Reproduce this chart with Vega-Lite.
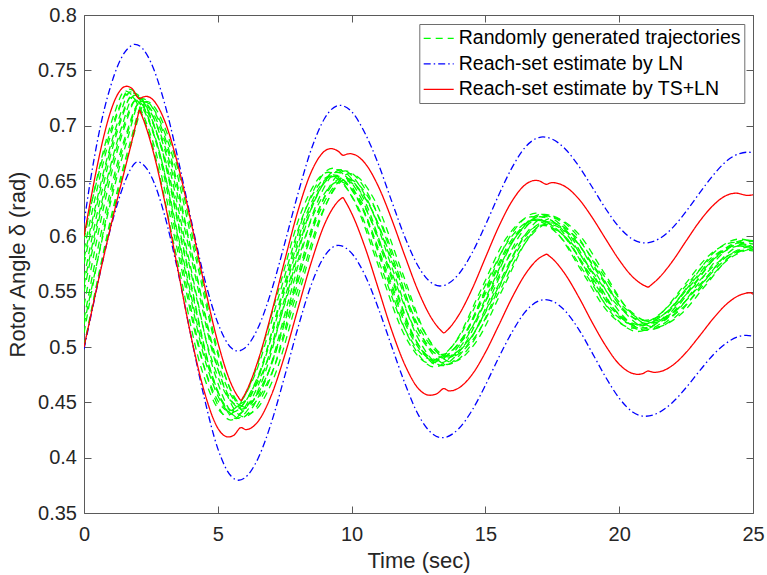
{
"$schema":"https://vega.github.io/schema/vega-lite/v6.json",
"width":669,"height":498,
"autosize":{"type":"none"},
"padding":{"left":84,"top":15,"right":14,"bottom":62},
"background":"white",
"config":{"view":{"stroke":null},"font":"Liberation Sans",
 "axis":{"grid":false,"domainColor":"#5a5a5a","domainWidth":1,"tickColor":"#5a5a5a","tickWidth":1,"tickSize":-7,"labelColor":"#262626","labelFont":"Liberation Sans","labelFontSize":20,"titleFont":"Liberation Sans","titleFontSize":22,"titleFontWeight":"normal","titleColor":"#262626","labelFlush":false,"labelOverlap":false,"labelBound":false}},
"datasets":{
"green":[
{"id":0,"t":0,"v":0.5},{"id":0,"t":0.5625,"v":0.5671},{"id":0,"t":1.125,"v":0.6291},{"id":0,"t":1.6875,"v":0.6815},{"id":0,"t":2.25,"v":0.7215},{"id":0,"t":3.2,"v":0.6811},{"id":0,"t":4.15,"v":0.5834},{"id":0,"t":5.1,"v":0.4857},{"id":0,"t":6.05,"v":0.4452},{"id":0,"t":7.0,"v":0.4755},{"id":0,"t":7.95,"v":0.5486},{"id":0,"t":8.9,"v":0.6216},{"id":0,"t":9.85,"v":0.6519},{"id":0,"t":10.8,"v":0.6283},{"id":0,"t":11.75,"v":0.5714},{"id":0,"t":12.7,"v":0.5144},{"id":0,"t":13.65,"v":0.4908},{"id":0,"t":14.6,"v":0.5086},{"id":0,"t":15.55,"v":0.5515},{"id":0,"t":16.5,"v":0.5944},{"id":0,"t":17.45,"v":0.6122},{"id":0,"t":18.4,"v":0.599},{"id":0,"t":19.35,"v":0.5671},{"id":0,"t":20.3,"v":0.5352},{"id":0,"t":21.25,"v":0.522},{"id":0,"t":22.2,"v":0.5319},{"id":0,"t":23.15,"v":0.5558},{"id":0,"t":24.1,"v":0.5796},{"id":0,"t":25.05,"v":0.5895},
{"id":1,"t":0,"v":0.5125},{"id":1,"t":0.5425,"v":0.5824},{"id":1,"t":1.085,"v":0.6449},{"id":1,"t":1.6275,"v":0.6936},{"id":1,"t":2.17,"v":0.7245},{"id":1,"t":3.12,"v":0.6824},{"id":1,"t":4.07,"v":0.5807},{"id":1,"t":5.02,"v":0.4789},{"id":1,"t":5.97,"v":0.4368},{"id":1,"t":6.92,"v":0.4693},{"id":1,"t":7.87,"v":0.548},{"id":1,"t":8.82,"v":0.6266},{"id":1,"t":9.77,"v":0.6591},{"id":1,"t":10.72,"v":0.6335},{"id":1,"t":11.67,"v":0.5717},{"id":1,"t":12.62,"v":0.5098},{"id":1,"t":13.57,"v":0.4842},{"id":1,"t":14.52,"v":0.5039},{"id":1,"t":15.47,"v":0.5515},{"id":1,"t":16.42,"v":0.5991},{"id":1,"t":17.37,"v":0.6188},{"id":1,"t":18.32,"v":0.6038},{"id":1,"t":19.27,"v":0.5674},{"id":1,"t":20.22,"v":0.5311},{"id":1,"t":21.17,"v":0.516},{"id":1,"t":22.12,"v":0.5276},{"id":1,"t":23.07,"v":0.5558},{"id":1,"t":24.02,"v":0.5839},{"id":1,"t":24.97,"v":0.5955},{"id":1,"t":25.92,"v":0.587},
{"id":2,"t":0,"v":0.525},{"id":2,"t":0.5225,"v":0.5894},{"id":2,"t":1.045,"v":0.6471},{"id":2,"t":1.5675,"v":0.692},{"id":2,"t":2.09,"v":0.7205},{"id":2,"t":3.04,"v":0.68},{"id":2,"t":3.99,"v":0.5822},{"id":2,"t":4.94,"v":0.4843},{"id":2,"t":5.89,"v":0.4438},{"id":2,"t":6.84,"v":0.4744},{"id":2,"t":7.79,"v":0.5485},{"id":2,"t":8.74,"v":0.6225},{"id":2,"t":9.69,"v":0.6531},{"id":2,"t":10.64,"v":0.6292},{"id":2,"t":11.59,"v":0.5714},{"id":2,"t":12.54,"v":0.5136},{"id":2,"t":13.49,"v":0.4897},{"id":2,"t":14.44,"v":0.5078},{"id":2,"t":15.39,"v":0.5515},{"id":2,"t":16.34,"v":0.5952},{"id":2,"t":17.29,"v":0.6133},{"id":2,"t":18.24,"v":0.5998},{"id":2,"t":19.19,"v":0.5672},{"id":2,"t":20.14,"v":0.5345},{"id":2,"t":21.09,"v":0.521},{"id":2,"t":22.04,"v":0.5312},{"id":2,"t":22.99,"v":0.5558},{"id":2,"t":23.94,"v":0.5803},{"id":2,"t":24.89,"v":0.5905},{"id":2,"t":25.84,"v":0.5834},
{"id":3,"t":0,"v":0.5375},{"id":3,"t":0.5025,"v":0.5995},{"id":3,"t":1.005,"v":0.6549},{"id":3,"t":1.5075,"v":0.6981},{"id":3,"t":2.01,"v":0.7255},{"id":3,"t":2.96,"v":0.683},{"id":3,"t":3.91,"v":0.5805},{"id":3,"t":4.86,"v":0.4779},{"id":3,"t":5.81,"v":0.4354},{"id":3,"t":6.76,"v":0.4683},{"id":3,"t":7.71,"v":0.5479},{"id":3,"t":8.66,"v":0.6274},{"id":3,"t":9.61,"v":0.6603},{"id":3,"t":10.56,"v":0.6344},{"id":3,"t":11.51,"v":0.5717},{"id":3,"t":12.46,"v":0.509},{"id":3,"t":13.41,"v":0.4831},{"id":3,"t":14.36,"v":0.5031},{"id":3,"t":15.31,"v":0.5515},{"id":3,"t":16.26,"v":0.5999},{"id":3,"t":17.21,"v":0.6199},{"id":3,"t":18.16,"v":0.6045},{"id":3,"t":19.11,"v":0.5675},{"id":3,"t":20.06,"v":0.5304},{"id":3,"t":21.01,"v":0.515},{"id":3,"t":21.96,"v":0.5269},{"id":3,"t":22.91,"v":0.5558},{"id":3,"t":23.86,"v":0.5846},{"id":3,"t":24.81,"v":0.5965},{"id":3,"t":25.76,"v":0.5877},
{"id":4,"t":0,"v":0.55},{"id":4,"t":0.4825,"v":0.6069},{"id":4,"t":0.965,"v":0.6577},{"id":4,"t":1.4475,"v":0.6974},{"id":4,"t":1.93,"v":0.7225},{"id":4,"t":2.88,"v":0.6823},{"id":4,"t":3.83,"v":0.5853},{"id":4,"t":4.78,"v":0.4882},{"id":4,"t":5.73,"v":0.448},{"id":4,"t":6.68,"v":0.4775},{"id":4,"t":7.63,"v":0.5488},{"id":4,"t":8.58,"v":0.62},{"id":4,"t":9.53,"v":0.6495},{"id":4,"t":10.48,"v":0.6266},{"id":4,"t":11.43,"v":0.5713},{"id":4,"t":12.38,"v":0.5159},{"id":4,"t":13.33,"v":0.493},{"id":4,"t":14.28,"v":0.5101},{"id":4,"t":15.23,"v":0.5515},{"id":4,"t":16.18,"v":0.5929},{"id":4,"t":17.13,"v":0.61},{"id":4,"t":18.08,"v":0.5974},{"id":4,"t":19.03,"v":0.567},{"id":4,"t":19.98,"v":0.5366},{"id":4,"t":20.93,"v":0.524},{"id":4,"t":21.88,"v":0.5333},{"id":4,"t":22.83,"v":0.5558},{"id":4,"t":23.78,"v":0.5782},{"id":4,"t":24.73,"v":0.5875},{"id":4,"t":25.68,"v":0.5812},
{"id":5,"t":0,"v":0.5625},{"id":5,"t":0.4625,"v":0.6175},{"id":5,"t":0.925,"v":0.6668},{"id":5,"t":1.3875,"v":0.7052},{"id":5,"t":1.85,"v":0.7295},{"id":5,"t":2.8,"v":0.6869},{"id":5,"t":3.75,"v":0.5839},{"id":5,"t":4.7,"v":0.4809},{"id":5,"t":5.65,"v":0.4382},{"id":5,"t":6.6,"v":0.4704},{"id":5,"t":7.55,"v":0.5481},{"id":5,"t":8.5,"v":0.6257},{"id":5,"t":9.45,"v":0.6579},{"id":5,"t":10.4,"v":0.6326},{"id":5,"t":11.35,"v":0.5716},{"id":5,"t":12.3,"v":0.5106},{"id":5,"t":13.25,"v":0.4853},{"id":5,"t":14.2,"v":0.5047},{"id":5,"t":15.15,"v":0.5515},{"id":5,"t":16.1,"v":0.5983},{"id":5,"t":17.05,"v":0.6177},{"id":5,"t":18.0,"v":0.603},{"id":5,"t":18.95,"v":0.5674},{"id":5,"t":19.9,"v":0.5317},{"id":5,"t":20.85,"v":0.517},{"id":5,"t":21.8,"v":0.5284},{"id":5,"t":22.75,"v":0.5558},{"id":5,"t":23.7,"v":0.5832},{"id":5,"t":24.65,"v":0.5945},{"id":5,"t":25.6,"v":0.5863},
{"id":6,"t":0,"v":0.575},{"id":6,"t":0.4425,"v":0.6246},{"id":6,"t":0.885,"v":0.669},{"id":6,"t":1.3275,"v":0.7036},{"id":6,"t":1.77,"v":0.7255},{"id":6,"t":2.72,"v":0.6841},{"id":6,"t":3.67,"v":0.584},{"id":6,"t":4.62,"v":0.4839},{"id":6,"t":5.57,"v":0.4424},{"id":6,"t":6.52,"v":0.4734},{"id":6,"t":7.47,"v":0.5484},{"id":6,"t":8.42,"v":0.6233},{"id":6,"t":9.37,"v":0.6543},{"id":6,"t":10.32,"v":0.63},{"id":6,"t":11.27,"v":0.5715},{"id":6,"t":12.22,"v":0.5129},{"id":6,"t":13.17,"v":0.4886},{"id":6,"t":14.12,"v":0.507},{"id":6,"t":15.07,"v":0.5515},{"id":6,"t":16.02,"v":0.596},{"id":6,"t":16.97,"v":0.6144},{"id":6,"t":17.92,"v":0.6006},{"id":6,"t":18.87,"v":0.5672},{"id":6,"t":19.82,"v":0.5338},{"id":6,"t":20.77,"v":0.52},{"id":6,"t":21.72,"v":0.5305},{"id":6,"t":22.67,"v":0.5558},{"id":6,"t":23.62,"v":0.581},{"id":6,"t":24.57,"v":0.5915},{"id":6,"t":25.52,"v":0.5841},
{"id":7,"t":0,"v":0.5875},{"id":7,"t":0.4225,"v":0.6355},{"id":7,"t":0.845,"v":0.6783},{"id":7,"t":1.2675,"v":0.7118},{"id":7,"t":1.69,"v":0.733},{"id":7,"t":2.64,"v":0.6892},{"id":7,"t":3.59,"v":0.5835},{"id":7,"t":4.54,"v":0.4778},{"id":7,"t":5.49,"v":0.434},{"id":7,"t":6.44,"v":0.4673},{"id":7,"t":7.39,"v":0.5478},{"id":7,"t":8.34,"v":0.6282},{"id":7,"t":9.29,"v":0.6615},{"id":7,"t":10.24,"v":0.6352},{"id":7,"t":11.19,"v":0.5718},{"id":7,"t":12.14,"v":0.5083},{"id":7,"t":13.09,"v":0.482},{"id":7,"t":14.04,"v":0.5024},{"id":7,"t":14.99,"v":0.5515},{"id":7,"t":15.94,"v":0.6007},{"id":7,"t":16.89,"v":0.621},{"id":7,"t":17.84,"v":0.6053},{"id":7,"t":18.79,"v":0.5675},{"id":7,"t":19.74,"v":0.5297},{"id":7,"t":20.69,"v":0.514},{"id":7,"t":21.64,"v":0.5262},{"id":7,"t":22.59,"v":0.5558},{"id":7,"t":23.54,"v":0.5853},{"id":7,"t":24.49,"v":0.5975},{"id":7,"t":25.44,"v":0.5884},
{"id":8,"t":0,"v":0.6},{"id":8,"t":0.4025,"v":0.6424},{"id":8,"t":0.805,"v":0.6802},{"id":8,"t":1.2075,"v":0.7098},{"id":8,"t":1.61,"v":0.7285},{"id":8,"t":2.56,"v":0.6866},{"id":8,"t":3.51,"v":0.5855},{"id":8,"t":4.46,"v":0.4843},{"id":8,"t":5.41,"v":0.4424},{"id":8,"t":6.36,"v":0.4734},{"id":8,"t":7.31,"v":0.5484},{"id":8,"t":8.26,"v":0.6233},{"id":8,"t":9.21,"v":0.6543},{"id":8,"t":10.16,"v":0.63},{"id":8,"t":11.11,"v":0.5715},{"id":8,"t":12.06,"v":0.5129},{"id":8,"t":13.01,"v":0.4886},{"id":8,"t":13.96,"v":0.507},{"id":8,"t":14.91,"v":0.5515},{"id":8,"t":15.86,"v":0.596},{"id":8,"t":16.81,"v":0.6144},{"id":8,"t":17.76,"v":0.6006},{"id":8,"t":18.71,"v":0.5672},{"id":8,"t":19.66,"v":0.5338},{"id":8,"t":20.61,"v":0.52},{"id":8,"t":21.56,"v":0.5305},{"id":8,"t":22.51,"v":0.5558},{"id":8,"t":23.46,"v":0.581},{"id":8,"t":24.41,"v":0.5915},{"id":8,"t":25.36,"v":0.5841},
{"id":9,"t":0,"v":0.5},{"id":9,"t":0.5825,"v":0.5673},{"id":9,"t":1.165,"v":0.6294},{"id":9,"t":1.7475,"v":0.682},{"id":9,"t":2.33,"v":0.722},{"id":9,"t":3.28,"v":0.6807},{"id":9,"t":4.23,"v":0.5808},{"id":9,"t":5.18,"v":0.481},{"id":9,"t":6.13,"v":0.4396},{"id":9,"t":7.08,"v":0.4714},{"id":9,"t":8.03,"v":0.5482},{"id":9,"t":8.98,"v":0.6249},{"id":9,"t":9.93,"v":0.6567},{"id":9,"t":10.88,"v":0.6318},{"id":9,"t":11.83,"v":0.5716},{"id":9,"t":12.78,"v":0.5113},{"id":9,"t":13.73,"v":0.4864},{"id":9,"t":14.68,"v":0.5055},{"id":9,"t":15.63,"v":0.5515},{"id":9,"t":16.58,"v":0.5975},{"id":9,"t":17.53,"v":0.6166},{"id":9,"t":18.48,"v":0.6022},{"id":9,"t":19.43,"v":0.5673},{"id":9,"t":20.38,"v":0.5324},{"id":9,"t":21.33,"v":0.518},{"id":9,"t":22.28,"v":0.5291},{"id":9,"t":23.23,"v":0.5558},{"id":9,"t":24.18,"v":0.5825},{"id":9,"t":25.13,"v":0.5935},
{"id":10,"t":0,"v":0.52},{"id":10,"t":0.5325,"v":0.5812},{"id":10,"t":1.065,"v":0.6377},{"id":10,"t":1.5975,"v":0.6856},{"id":10,"t":2.13,"v":0.722},{"id":10,"t":3.08,"v":0.6817},{"id":10,"t":4.03,"v":0.5843},{"id":10,"t":4.98,"v":0.4869},{"id":10,"t":5.93,"v":0.4466},{"id":10,"t":6.88,"v":0.4765},{"id":10,"t":7.83,"v":0.5487},{"id":10,"t":8.78,"v":0.6208},{"id":10,"t":9.73,"v":0.6507},{"id":10,"t":10.68,"v":0.6275},{"id":10,"t":11.63,"v":0.5713},{"id":10,"t":12.58,"v":0.5152},{"id":10,"t":13.53,"v":0.4919},{"id":10,"t":14.48,"v":0.5094},{"id":10,"t":15.43,"v":0.5515},{"id":10,"t":16.38,"v":0.5937},{"id":10,"t":17.33,"v":0.6111},{"id":10,"t":18.28,"v":0.5982},{"id":10,"t":19.23,"v":0.5671},{"id":10,"t":20.18,"v":0.5359},{"id":10,"t":21.13,"v":0.523},{"id":10,"t":22.08,"v":0.5326},{"id":10,"t":23.03,"v":0.5558},{"id":10,"t":23.98,"v":0.5789},{"id":10,"t":24.93,"v":0.5885},{"id":10,"t":25.88,"v":0.5819},
{"id":11,"t":0,"v":0.556},{"id":11,"t":0.4725,"v":0.6103},{"id":11,"t":0.945,"v":0.6595},{"id":11,"t":1.4175,"v":0.6995},{"id":11,"t":1.89,"v":0.7275},{"id":11,"t":2.84,"v":0.6847},{"id":11,"t":3.79,"v":0.5815},{"id":11,"t":4.74,"v":0.4782},{"id":11,"t":5.69,"v":0.4354},{"id":11,"t":6.64,"v":0.4683},{"id":11,"t":7.59,"v":0.5479},{"id":11,"t":8.54,"v":0.6274},{"id":11,"t":9.49,"v":0.6603},{"id":11,"t":10.44,"v":0.6344},{"id":11,"t":11.39,"v":0.5717},{"id":11,"t":12.34,"v":0.509},{"id":11,"t":13.29,"v":0.4831},{"id":11,"t":14.24,"v":0.5031},{"id":11,"t":15.19,"v":0.5515},{"id":11,"t":16.14,"v":0.5999},{"id":11,"t":17.09,"v":0.6199},{"id":11,"t":18.04,"v":0.6045},{"id":11,"t":18.99,"v":0.5675},{"id":11,"t":19.94,"v":0.5304},{"id":11,"t":20.89,"v":0.515},{"id":11,"t":21.84,"v":0.5269},{"id":11,"t":22.79,"v":0.5558},{"id":11,"t":23.74,"v":0.5846},{"id":11,"t":24.69,"v":0.5965},{"id":11,"t":25.64,"v":0.5877},
{"id":12,"t":0,"v":0.58},{"id":12,"t":0.4325,"v":0.6276},{"id":12,"t":0.865,"v":0.6708},{"id":12,"t":1.2975,"v":0.706},{"id":12,"t":1.73,"v":0.7305},{"id":12,"t":2.68,"v":0.6881},{"id":12,"t":3.63,"v":0.5858},{"id":12,"t":4.58,"v":0.4834},{"id":12,"t":5.53,"v":0.441},{"id":12,"t":6.48,"v":0.4724},{"id":12,"t":7.43,"v":0.5483},{"id":12,"t":8.38,"v":0.6241},{"id":12,"t":9.33,"v":0.6555},{"id":12,"t":10.28,"v":0.6309},{"id":12,"t":11.23,"v":0.5715},{"id":12,"t":12.18,"v":0.5121},{"id":12,"t":13.13,"v":0.4875},{"id":12,"t":14.08,"v":0.5062},{"id":12,"t":15.03,"v":0.5515},{"id":12,"t":15.98,"v":0.5968},{"id":12,"t":16.93,"v":0.6155},{"id":12,"t":17.88,"v":0.6014},{"id":12,"t":18.83,"v":0.5673},{"id":12,"t":19.78,"v":0.5331},{"id":12,"t":20.73,"v":0.519},{"id":12,"t":21.68,"v":0.5298},{"id":12,"t":22.63,"v":0.5558},{"id":12,"t":23.58,"v":0.5817},{"id":12,"t":24.53,"v":0.5925},{"id":12,"t":25.48,"v":0.5848},
{"id":13,"t":0,"v":0.597},{"id":13,"t":0.3825,"v":0.6413},{"id":13,"t":0.765,"v":0.681},{"id":13,"t":1.1475,"v":0.7119},{"id":13,"t":1.53,"v":0.7315},{"id":13,"t":2.48,"v":0.6886},{"id":13,"t":3.43,"v":0.5849},{"id":13,"t":4.38,"v":0.4811},{"id":13,"t":5.33,"v":0.4382},{"id":13,"t":6.28,"v":0.4704},{"id":13,"t":7.23,"v":0.5481},{"id":13,"t":8.18,"v":0.6257},{"id":13,"t":9.13,"v":0.6579},{"id":13,"t":10.08,"v":0.6326},{"id":13,"t":11.03,"v":0.5716},{"id":13,"t":11.98,"v":0.5106},{"id":13,"t":12.93,"v":0.4853},{"id":13,"t":13.88,"v":0.5047},{"id":13,"t":14.83,"v":0.5515},{"id":13,"t":15.78,"v":0.5983},{"id":13,"t":16.73,"v":0.6177},{"id":13,"t":17.68,"v":0.603},{"id":13,"t":18.63,"v":0.5674},{"id":13,"t":19.58,"v":0.5317},{"id":13,"t":20.53,"v":0.517},{"id":13,"t":21.48,"v":0.5284},{"id":13,"t":22.43,"v":0.5558},{"id":13,"t":23.38,"v":0.5832},{"id":13,"t":24.33,"v":0.5945},{"id":13,"t":25.28,"v":0.5863}
],
"blue":[
{"b":"U","t":0,"v":0.612},{"b":"U","t":0.25,"v":0.652},{"b":"U","t":0.5,"v":0.686},{"b":"U","t":0.75,"v":0.714},{"b":"U","t":1.0,"v":0.736},{"b":"U","t":1.25,"v":0.7535},{"b":"U","t":1.5,"v":0.7655},{"b":"U","t":1.75,"v":0.772},{"b":"U","t":1.9,"v":0.7735},{"b":"U","t":2.2,"v":0.7694},{"b":"U","t":2.5,"v":0.7572},{"b":"U","t":3.0,"v":0.7213},{"b":"U","t":3.5,"v":0.6715},{"b":"U","t":4.0,"v":0.6152},{"b":"U","t":4.5,"v":0.562},{"b":"U","t":5.0,"v":0.5218},{"b":"U","t":5.5,"v":0.4993},{"b":"U","t":5.75,"v":0.4964},{"b":"U","t":6.0,"v":0.4988},{"b":"U","t":6.5,"v":0.5171},{"b":"U","t":7.0,"v":0.5505},{"b":"U","t":7.5,"v":0.5936},{"b":"U","t":8.0,"v":0.6389},{"b":"U","t":8.5,"v":0.6791},{"b":"U","t":9.0,"v":0.7069},{"b":"U","t":9.55,"v":0.7184},{"b":"U","t":10.0,"v":0.7127},{"b":"U","t":10.5,"v":0.6932},{"b":"U","t":11.0,"v":0.6653},{"b":"U","t":11.5,"v":0.6316},{"b":"U","t":12.0,"v":0.5988},{"b":"U","t":12.5,"v":0.5725},{"b":"U","t":13.0,"v":0.5577},{"b":"U","t":13.3,"v":0.5551},{"b":"U","t":13.5,"v":0.556},{"b":"U","t":14.0,"v":0.5658},{"b":"U","t":14.5,"v":0.5849},{"b":"U","t":15.0,"v":0.6101},{"b":"U","t":15.5,"v":0.6374},{"b":"U","t":16.0,"v":0.6623},{"b":"U","t":16.5,"v":0.6808},{"b":"U","t":17.0,"v":0.6893},{"b":"U","t":17.15,"v":0.6898},{"b":"U","t":17.5,"v":0.6878},{"b":"U","t":18.0,"v":0.6785},{"b":"U","t":18.5,"v":0.6631},{"b":"U","t":19.0,"v":0.6441},{"b":"U","t":19.5,"v":0.6247},{"b":"U","t":20.0,"v":0.6082},{"b":"U","t":20.5,"v":0.5974},{"b":"U","t":20.96,"v":0.594},{"b":"U","t":21.5,"v":0.5979},{"b":"U","t":22.0,"v":0.6079},{"b":"U","t":22.5,"v":0.6225},{"b":"U","t":23.0,"v":0.639},{"b":"U","t":23.5,"v":0.6549},{"b":"U","t":24.0,"v":0.6678},{"b":"U","t":24.5,"v":0.6748},{"b":"U","t":24.8,"v":0.676},{"b":"U","t":25.0,"v":0.6757},
{"b":"L","t":0,"v":0.498},{"b":"L","t":0.25,"v":0.527},{"b":"L","t":0.5,"v":0.5555},{"b":"L","t":0.75,"v":0.583},{"b":"L","t":1.0,"v":0.608},{"b":"L","t":1.25,"v":0.6295},{"b":"L","t":1.5,"v":0.6475},{"b":"L","t":1.75,"v":0.661},{"b":"L","t":2.0,"v":0.6672},{"b":"L","t":2.5,"v":0.6549},{"b":"L","t":3.0,"v":0.6202},{"b":"L","t":3.5,"v":0.5693},{"b":"L","t":4.0,"v":0.5096},{"b":"L","t":4.5,"v":0.4535},{"b":"L","t":5.0,"v":0.4082},{"b":"L","t":5.5,"v":0.3832},{"b":"L","t":5.77,"v":0.3796},{"b":"L","t":6.0,"v":0.3816},{"b":"L","t":6.5,"v":0.3991},{"b":"L","t":7.0,"v":0.4315},{"b":"L","t":7.5,"v":0.4737},{"b":"L","t":8.0,"v":0.5178},{"b":"L","t":8.5,"v":0.5567},{"b":"L","t":9.0,"v":0.5826},{"b":"L","t":9.5,"v":0.5919},{"b":"L","t":10.0,"v":0.5848},{"b":"L","t":10.5,"v":0.5649},{"b":"L","t":11.0,"v":0.535},{"b":"L","t":11.5,"v":0.5004},{"b":"L","t":12.0,"v":0.4666},{"b":"L","t":12.5,"v":0.4384},{"b":"L","t":13.0,"v":0.422},{"b":"L","t":13.37,"v":0.4181},{"b":"L","t":13.5,"v":0.4184},{"b":"L","t":14.0,"v":0.4261},{"b":"L","t":14.5,"v":0.4427},{"b":"L","t":15.0,"v":0.4654},{"b":"L","t":15.5,"v":0.4906},{"b":"L","t":16.0,"v":0.5136},{"b":"L","t":16.5,"v":0.5321},{"b":"L","t":17.0,"v":0.5417},{"b":"L","t":17.23,"v":0.5428},{"b":"L","t":17.5,"v":0.5415},{"b":"L","t":18.0,"v":0.5321},{"b":"L","t":18.5,"v":0.5155},{"b":"L","t":19.0,"v":0.4943},{"b":"L","t":19.5,"v":0.4725},{"b":"L","t":20.0,"v":0.4538},{"b":"L","t":20.5,"v":0.4413},{"b":"L","t":20.96,"v":0.4374},{"b":"L","t":21.5,"v":0.441},{"b":"L","t":22.0,"v":0.4501},{"b":"L","t":22.5,"v":0.4633},{"b":"L","t":23.0,"v":0.4783},{"b":"L","t":23.5,"v":0.4926},{"b":"L","t":24.0,"v":0.5035},{"b":"L","t":24.5,"v":0.5097},{"b":"L","t":24.75,"v":0.5105},{"b":"L","t":25.0,"v":0.5099}
],
"red":[
{"b":"U","t":0,"v":0.6},{"b":"U","t":0.25,"v":0.6332},{"b":"U","t":0.5,"v":0.6643},{"b":"U","t":0.75,"v":0.6915},{"b":"U","t":1.0,"v":0.7132},{"b":"U","t":1.25,"v":0.728},{"b":"U","t":1.5,"v":0.7351},{"b":"U","t":1.59,"v":0.7356},{"b":"U","t":1.8,"v":0.7334},{"b":"U","t":2.07,"v":0.7245},{"b":"U","t":2.2,"v":0.7258},{"b":"U","t":2.32,"v":0.7265},{"b":"U","t":2.5,"v":0.725},{"b":"U","t":3.0,"v":0.7052},{"b":"U","t":3.5,"v":0.6654},{"b":"U","t":4.0,"v":0.6129},{"b":"U","t":4.5,"v":0.5559},{"b":"U","t":5.0,"v":0.5043},{"b":"U","t":5.5,"v":0.4667},{"b":"U","t":5.75,"v":0.4553},{"b":"U","t":5.87,"v":0.4518},{"b":"U","t":5.95,"v":0.4548},{"b":"U","t":6.0,"v":0.4569},{"b":"U","t":6.5,"v":0.4874},{"b":"U","t":7.0,"v":0.5301},{"b":"U","t":7.5,"v":0.5782},{"b":"U","t":8.0,"v":0.6234},{"b":"U","t":8.5,"v":0.6586},{"b":"U","t":9.0,"v":0.6772},{"b":"U","t":9.23,"v":0.6793},{"b":"U","t":9.5,"v":0.6769},{"b":"U","t":9.69,"v":0.6732},{"b":"U","t":9.82,"v":0.6742},{"b":"U","t":9.94,"v":0.6747},{"b":"U","t":10.5,"v":0.6661},{"b":"U","t":11.0,"v":0.6451},{"b":"U","t":11.5,"v":0.6153},{"b":"U","t":12.0,"v":0.5817},{"b":"U","t":12.5,"v":0.5499},{"b":"U","t":13.0,"v":0.5255},{"b":"U","t":13.35,"v":0.5147},{"b":"U","t":13.45,"v":0.5127},{"b":"U","t":13.55,"v":0.5146},{"b":"U","t":14.0,"v":0.5287},{"b":"U","t":14.5,"v":0.5522},{"b":"U","t":15.0,"v":0.5807},{"b":"U","t":15.5,"v":0.6088},{"b":"U","t":16.0,"v":0.632},{"b":"U","t":16.5,"v":0.6469},{"b":"U","t":16.89,"v":0.6506},{"b":"U","t":17.0,"v":0.6502},{"b":"U","t":17.29,"v":0.647},{"b":"U","t":17.4,"v":0.6481},{"b":"U","t":17.51,"v":0.6485},{"b":"U","t":18.0,"v":0.6447},{"b":"U","t":18.5,"v":0.6335},{"b":"U","t":19.0,"v":0.6167},{"b":"U","t":19.5,"v":0.5974},{"b":"U","t":20.0,"v":0.5786},{"b":"U","t":20.5,"v":0.5634},{"b":"U","t":20.95,"v":0.5554},{"b":"U","t":21.08,"v":0.5542},{"b":"U","t":21.2,"v":0.5562},{"b":"U","t":21.5,"v":0.5628},{"b":"U","t":22.0,"v":0.5778},{"b":"U","t":22.5,"v":0.5958},{"b":"U","t":23.0,"v":0.6134},{"b":"U","t":23.5,"v":0.6277},{"b":"U","t":24.0,"v":0.6369},{"b":"U","t":24.37,"v":0.639},{"b":"U","t":24.8,"v":0.637},{"b":"U","t":25.0,"v":0.6375},
{"b":"L","t":0,"v":0.5},{"b":"L","t":0.25,"v":0.528},{"b":"L","t":0.5,"v":0.556},{"b":"L","t":0.75,"v":0.583},{"b":"L","t":1.0,"v":0.609},{"b":"L","t":1.25,"v":0.634},{"b":"L","t":1.5,"v":0.658},{"b":"L","t":1.75,"v":0.682},{"b":"L","t":2.0,"v":0.7075},{"b":"L","t":2.07,"v":0.7139},{"b":"L","t":2.15,"v":0.7097},{"b":"L","t":2.5,"v":0.6843},{"b":"L","t":3.0,"v":0.6331},{"b":"L","t":3.5,"v":0.571},{"b":"L","t":4.0,"v":0.5096},{"b":"L","t":4.5,"v":0.4593},{"b":"L","t":5.0,"v":0.4267},{"b":"L","t":5.39,"v":0.4187},{"b":"L","t":5.6,"v":0.4203},{"b":"L","t":5.87,"v":0.4272},{"b":"L","t":6.05,"v":0.4254},{"b":"L","t":6.5,"v":0.4326},{"b":"L","t":7.0,"v":0.4563},{"b":"L","t":7.5,"v":0.4924},{"b":"L","t":8.0,"v":0.5351},{"b":"L","t":8.5,"v":0.577},{"b":"L","t":9.0,"v":0.6115},{"b":"L","t":9.5,"v":0.6318},{"b":"L","t":9.58,"v":0.6336},{"b":"L","t":9.67,"v":0.635},{"b":"L","t":9.77,"v":0.6314},{"b":"L","t":10.0,"v":0.6209},{"b":"L","t":10.5,"v":0.5902},{"b":"L","t":11.0,"v":0.5527},{"b":"L","t":11.5,"v":0.5149},{"b":"L","t":12.0,"v":0.4834},{"b":"L","t":12.5,"v":0.4623},{"b":"L","t":12.93,"v":0.4564},{"b":"L","t":13.2,"v":0.458},{"b":"L","t":13.45,"v":0.4624},{"b":"L","t":13.65,"v":0.4603},{"b":"L","t":14.0,"v":0.4629},{"b":"L","t":14.5,"v":0.475},{"b":"L","t":15.0,"v":0.4951},{"b":"L","t":15.5,"v":0.5197},{"b":"L","t":16.0,"v":0.5448},{"b":"L","t":16.5,"v":0.5661},{"b":"L","t":17.0,"v":0.5801},{"b":"L","t":17.2,"v":0.583},{"b":"L","t":17.29,"v":0.5838},{"b":"L","t":17.38,"v":0.5823},{"b":"L","t":17.5,"v":0.5799},{"b":"L","t":18.0,"v":0.5651},{"b":"L","t":18.5,"v":0.5446},{"b":"L","t":19.0,"v":0.5218},{"b":"L","t":19.5,"v":0.5009},{"b":"L","t":20.0,"v":0.4844},{"b":"L","t":20.5,"v":0.4761},{"b":"L","t":20.7,"v":0.4753},{"b":"L","t":20.9,"v":0.4762},{"b":"L","t":21.08,"v":0.4783},{"b":"L","t":21.3,"v":0.4771},{"b":"L","t":21.5,"v":0.4776},{"b":"L","t":22.0,"v":0.4835},{"b":"L","t":22.5,"v":0.4951},{"b":"L","t":23.0,"v":0.5099},{"b":"L","t":23.5,"v":0.5253},{"b":"L","t":24.0,"v":0.5385},{"b":"L","t":24.5,"v":0.5468},{"b":"L","t":24.9,"v":0.549},{"b":"L","t":25.0,"v":0.5477}
]
},
"layer":[
{"data":{"name":"green"},
 "mark":{"type":"line","clip":true,"strokeWidth":1.3,"interpolate":"monotone"},
 "encoding":{
  "x":{"field":"t","type":"quantitative","scale":{"domain":[0,25],"nice":false,"zero":false},
       "axis":{"orient":"bottom","values":[0,5,10,15,20,25],"ticks":false,"domain":false,"title":"Time (sec)","labelPadding":11.5,"titlePadding":6}},
  "y":{"field":"v","type":"quantitative","scale":{"domain":[0.35,0.8],"nice":false,"zero":false},
       "axis":{"orient":"left","values":[0.35,0.4,0.45,0.5,0.55,0.6,0.65,0.7,0.75,0.8],"format":".2~f","ticks":false,"domain":false,"title":"Rotor Angle δ (rad)","labelPadding":7.5,"titlePadding":8}},
  "detail":{"field":"id","type":"nominal"},
  "color":{"datum":"Randomly generated trajectories","type":"nominal",
     "scale":{"domain":["Randomly generated trajectories","Reach-set estimate by LN","Reach-set estimate by TS+LN"],"range":["#00ff00","#0000ff","#ff0000"]},
     "legend":{"orient":"none","legendX":335.3,"legendY":9,"title":null,"symbolType":"M-1,0H2","symbolSize":400,"symbolStrokeWidth":1.3,"labelFontSize":19.5,"labelFont":"Liberation Sans","labelColor":"#000000","labelLimit":500,"strokeColor":"#6e6e6e","fillColor":"white","padding":3.4,"rowPadding":4.5,"labelOffset":14}},
  "strokeDash":{"datum":"Randomly generated trajectories","type":"nominal",
     "scale":{"domain":["Randomly generated trajectories","Reach-set estimate by LN","Reach-set estimate by TS+LN"],"range":[[7,5],[7,3,1.5,3],[1,0]]}}
 }},
{"data":{"name":"blue"},
 "mark":{"type":"line","clip":true,"strokeWidth":1.3,"interpolate":"monotone"},
 "encoding":{
  "x":{"field":"t","type":"quantitative","axis":{"orient":"bottom","values":[0,5,10,15,20,25],"labels":false,"title":null}},
  "y":{"field":"v","type":"quantitative","axis":{"orient":"left","values":[0.35,0.4,0.45,0.5,0.55,0.6,0.65,0.7,0.75,0.8],"labels":false,"title":null}},
  "detail":{"field":"b","type":"nominal"},
  "color":{"datum":"Reach-set estimate by LN","type":"nominal"},
  "strokeDash":{"datum":"Reach-set estimate by LN","type":"nominal"}
 }},
{"data":{"name":"red"},
 "mark":{"type":"line","clip":true,"strokeWidth":1.3,"interpolate":"monotone"},
 "encoding":{
  "x":{"field":"t","type":"quantitative","axis":{"orient":"top","values":[0,5,10,15,20,25],"labels":false,"title":null}},
  "y":{"field":"v","type":"quantitative","axis":{"orient":"right","values":[0.35,0.4,0.45,0.5,0.55,0.6,0.65,0.7,0.75,0.8],"labels":false,"title":null}},
  "detail":{"field":"b","type":"nominal"},
  "color":{"datum":"Reach-set estimate by TS+LN","type":"nominal"},
  "strokeDash":{"datum":"Reach-set estimate by TS+LN","type":"nominal"}
 }}
],
"resolve":{"axis":{"x":"independent","y":"independent"}}
}
